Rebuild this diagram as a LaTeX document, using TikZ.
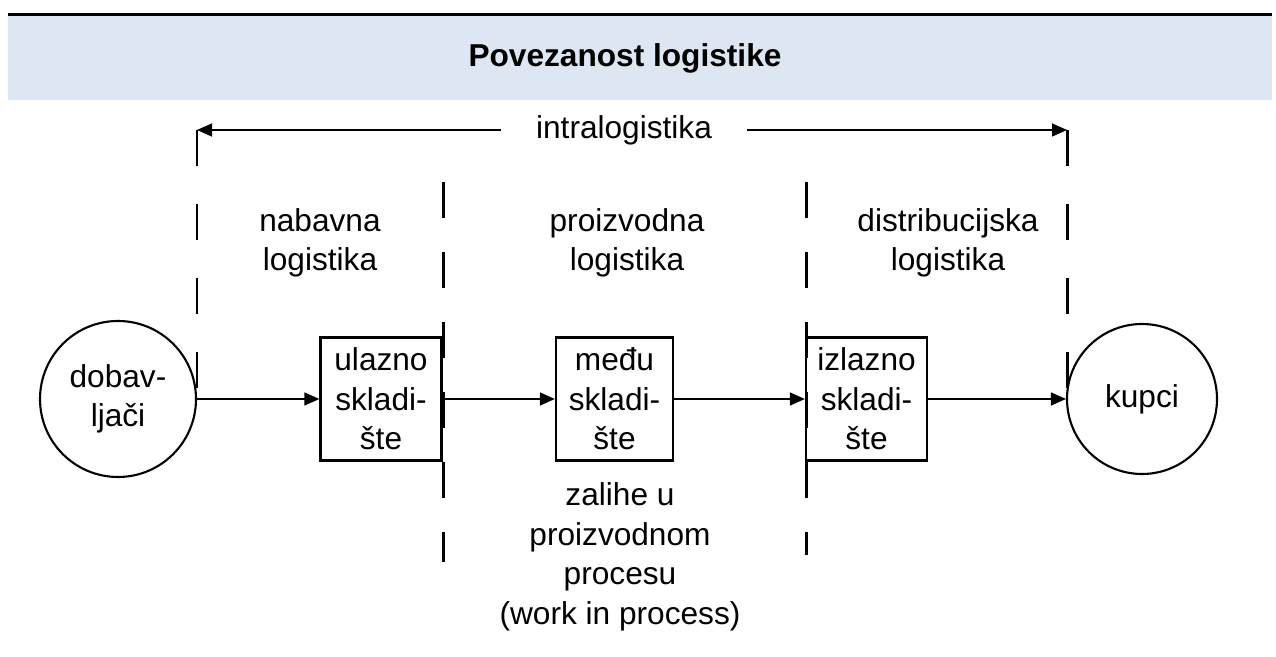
\documentclass[tikz,border=0pt]{standalone}
\usepackage{fontspec}
\setmainfont{Liberation Sans}
\usetikzlibrary{arrows.meta}
\definecolor{traka}{RGB}{221,231,244}

\begin{document}
\begin{tikzpicture}[
    font=\fontsize{18}{22.5}\selectfont,
    skladiste/.style={draw, line width=1.3pt, minimum width=2.42cm, minimum height=2.46cm, inner sep=0pt, align=center},
    partner/.style={draw, circle, line width=1.2pt, inner sep=0pt, align=center},
    strelica/.style={-{Triangle[length=3mm,width=2.6mm]}, line width=0.8pt},
    granica/.style={line width=1.7pt, dash pattern=on 0.72cm off 0.76cm}
]
    \useasboundingbox (0,0) rectangle (25.52,13.14);

    % Header
    \fill[traka] (0.16,11.14) rectangle (25.44,12.82);
    \draw[line width=1.7pt] (0.16,12.84) -- (25.44,12.84);
    \node[font=\fontsize{18}{22.5}\selectfont\bfseries] (naslov) at (12.5,11.98) {Povezanost logistike};

    % Intralogistika
    \node[inner xsep=0.7cm] (intra) at (12.48,10.54) {intralogistika};
    \coordinate (lijevo) at (3.94,10.54);
    \coordinate (desno) at (21.34,10.54);
    \draw[strelica] (intra.west) -- (lijevo);
    \draw[strelica] (intra.east) -- (desno);

    % Dashed boundaries
    \draw[granica] (lijevo) -- (3.94,4.96);
    \draw[granica, dash pattern=on 0.72cm off 0.68cm] (8.86,9.5) -- (8.86,1.9);
    \draw[granica, dash pattern=on 0.72cm off 0.68cm] (16.12,9.5) -- (16.12,2.04);
    \draw[granica] (desno) -- (21.34,4.76);

    % Section labels
    \node[align=center] (nabavna) at (6.4,8.28) {nabavna\\logistika};
    \node[align=center] (proizvodna) at (12.54,8.28) {proizvodna\\logistika};
    \node[align=center] (distribucijska) at (18.96,8.28) {distribucijska\\logistika};

    % Flow of goods
    \node[partner, minimum size=3.12cm] (dobav) at (2.36,5.16) {dobav-\\ljači};
    \node[skladiste] (ulazno) at (7.62,5.16) {ulazno\\skladi-\\šte};
    \node[skladiste, minimum width=2.34cm] (medju) at (12.29,5.16) {među\\skladi-\\šte};
    \node[skladiste] (izlazno) at (17.33,5.16) {izlazno\\skladi-\\šte};
    \node[partner, minimum size=3.0cm] (kupci) at (22.84,5.16) {kupci};

    \draw[strelica] (dobav) -- (ulazno);
    \draw[strelica] (ulazno) -- (medju);
    \draw[strelica] (medju) -- (izlazno);
    \draw[strelica] (izlazno) -- (kupci);

    % Work in process
    \node[align=center] (zalihe) at (12.4,2.0) {zalihe u\\proizvodnom\\procesu\\(work in process)};
\end{tikzpicture}
\end{document}
